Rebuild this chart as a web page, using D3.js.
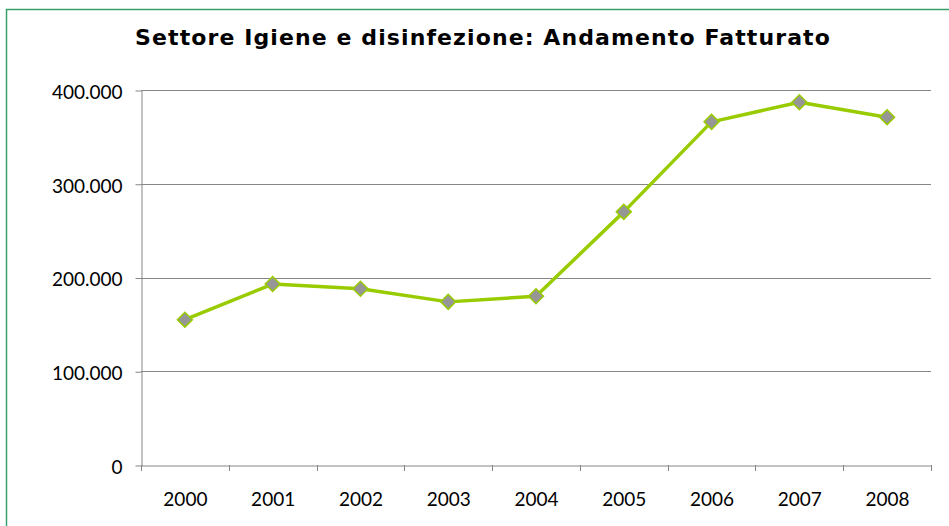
<!DOCTYPE html>
<html><head><meta charset="utf-8">
<script src="https://cdn.jsdelivr.net/npm/d3@7"></script>
<style>body{margin:0;background:#fff}svg{display:block}</style>
</head><body>
<svg id="c" width="949" height="526"></svg>
<script>
const years = ["2000","2001","2002","2003","2004","2005","2006","2007","2008"];
const fatturato = [155000,193000,188000,174000,180000,270000,366000,387000,371000];
const yTicks = [0,100000,200000,300000,400000];
const title = "Settore Igiene e disinfezione: Andamento Fatturato";

const svg = d3.select("#c");
const m = {l:141, r:931, t:90, b:465};
svg.append("rect").attr("x",6.5).attr("y",9.5).attr("width",960).attr("height",540)
  .attr("fill","#fff").attr("stroke","#3a9e6c").attr("stroke-width",1.5);

const x = d3.scaleBand().domain(years).range([m.l,m.r]);
const y = d3.scaleLinear().domain([0,400000]).range([m.b,m.t]);
const fmt = v => v===0 ? "0" : d3.format(",")(v).replace(/,/g,".");
const labelFont = "Lato, 'Open Sans', sans-serif";

// gridlines
svg.append("g").selectAll("line").data(yTicks.filter(d=>d>0)).join("line")
  .attr("x1",m.l).attr("x2",m.r).attr("y1",d=>Math.round(y(d))+0.5).attr("y2",d=>Math.round(y(d))+0.5)
  .attr("stroke","#868686").attr("stroke-width",1);

const yAxis = svg.append("g").attr("transform",`translate(${m.l+0.5},0.5)`)
  .call(d3.axisLeft(y).tickValues(yTicks).tickFormat(fmt).tickSize(6).tickSizeOuter(0));
yAxis.select(".domain").attr("stroke","#868686");
yAxis.selectAll(".tick line").attr("stroke","#868686");
yAxis.selectAll("text").attr("font-family",labelFont).attr("font-size",19).attr("fill","#000")
  .attr("x",-19).attr("dy","0.42em");

const xAxis = svg.append("g").attr("transform",`translate(0.5,${m.b+0.5})`)
  .call(d3.axisBottom(x).tickSize(0).tickSizeOuter(0));
xAxis.select(".domain").attr("stroke","#868686");
xAxis.selectAll("text").attr("font-family",labelFont).attr("font-size",19).attr("fill","#000")
  .attr("y",40).attr("dy",0);
// category boundary ticks
const bounds = years.map(d=>x(d)).concat([m.r]);
svg.append("g").selectAll("line").data(bounds).join("line")
  .attr("x1",d=>Math.round(d)+0.5).attr("x2",d=>Math.round(d)+0.5)
  .attr("y1",m.b).attr("y2",m.b+6).attr("stroke","#868686");

const cx = d => x(d)+x.bandwidth()/2;
svg.append("path").datum(fatturato.map((v,i)=>[cx(years[i]),y(v)]))
  .attr("d",d3.line()).attr("fill","none").attr("stroke","#99cc00").attr("stroke-width",3.5)
  .attr("stroke-linejoin","round");

svg.append("g").selectAll("path").data(fatturato).join("path")
  .attr("d",d3.symbol(d3.symbolSquare,112))
  .attr("transform",(v,i)=>`translate(${cx(years[i])},${y(v)}) rotate(45)`)
  .attr("fill","#969696").attr("stroke","#99cc00").attr("stroke-width",1.5);

svg.append("text").attr("x",483).attr("y",45).attr("text-anchor","middle")
  .attr("font-family","'DejaVu Sans', Verdana, sans-serif").attr("font-weight","bold")
  .attr("font-size",22).attr("letter-spacing",1.1).attr("fill","#000").text(title);
</script>
</body></html>
